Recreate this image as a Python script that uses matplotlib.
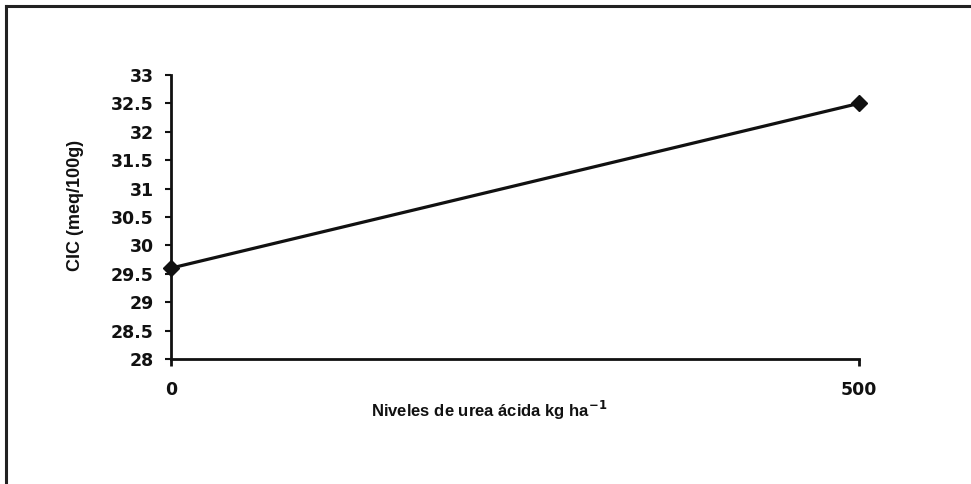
import matplotlib
matplotlib.use("Agg")
import matplotlib.pyplot as plt
from matplotlib.lines import Line2D

x_levels = [0, 500]
x_labels = ["0", "500"]
cic_values = [29.6, 32.5]
y_ticks = [28, 28.5, 29, 29.5, 30, 30.5, 31, 31.5, 32, 32.5, 33]

plt.rcParams['font.family'] = ['Liberation Sans', 'DejaVu Sans']
plt.rcParams['font.weight'] = 'bold'

fig = plt.figure(figsize=(9.71, 4.84), dpi=100)
W, H = 971, 484
ax = fig.add_axes([171 / W, 1 - 359 / H, (859 - 171) / W, (359 - 75) / H])

ax.plot(x_levels, cic_values, color='#111111', lw=2.3, marker='D', ms=8,
        markerfacecolor='#111111', markeredgecolor='#111111', clip_on=False, zorder=3)

ax.set_xlim(0, 500)
ax.set_ylim(28, 33)
ax.set_yticks(y_ticks)
ax.set_yticklabels([f"{v:g}" for v in y_ticks], fontsize=12.5, fontweight='bold',
                   family=['DejaVu Sans'])
ax.set_xticks(x_levels)
ax.set_xticklabels(x_labels, fontsize=12.5, fontweight='bold', family=['DejaVu Sans'])

for s in ['top', 'right']:
    ax.spines[s].set_visible(False)
for s in ['left', 'bottom']:
    ax.spines[s].set_linewidth(2.0)
    ax.spines[s].set_color('#111111')

ax.tick_params(axis='y', direction='out', length=4, width=1.5, pad=8.5, colors='#111111')
ax.tick_params(axis='x', direction='out', length=5, width=2.0, pad=11, colors='#111111')

ax.set_ylabel("CIC (meq/100g)", fontsize=13, fontweight='bold', color='#111111')
ax.yaxis.set_label_coords(-0.126, 0.54)

fig.text(489 / W, 1 - 410 / H, r"Niveles de urea ácida kg ha$^{\mathbf{-1}}$",
         ha='center', va='center', fontsize=12, fontweight='bold', color='#111111')

# outer frame (top and left visible)
fig.add_artist(Line2D([6 / W, 1.0], [1 - 6 / H, 1 - 6 / H], transform=fig.transFigure,
                      color='#222222', lw=2.2))
fig.add_artist(Line2D([6 / W, 6 / W], [1 - 6 / H, 0.0], transform=fig.transFigure,
                      color='#222222', lw=2.2))

fig.savefig("out.png", dpi=100, facecolor='white')
